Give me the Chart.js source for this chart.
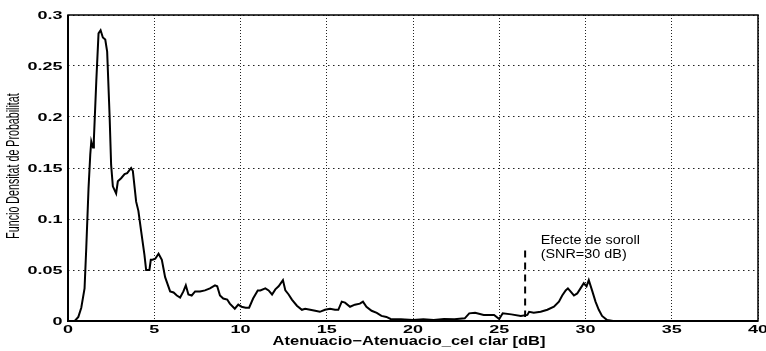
<!DOCTYPE html>
<html>
<head>
<meta charset="utf-8">
<script src="https://cdn.jsdelivr.net/npm/chart.js@4.4.1/dist/chart.umd.min.js"></script>
<style>
body { margin: 0; background: #fff; }
</style>
</head>
<body>
<canvas id="chart" width="766" height="351"></canvas>
<script>
// valors llegits de la figura
const atenuacio = [0, 0.39, 0.6, 0.77, 0.96, 1.06, 1.19, 1.29, 1.35, 1.45, 1.5, 1.64, 1.77, 1.89, 2.02, 2.16, 2.27, 2.41, 2.5, 2.6,
    2.79, 2.89, 3.08, 3.28, 3.43, 3.66, 3.76, 3.95, 4.08, 4.24, 4.43, 4.53, 4.72, 4.8, 4.9, 5.06, 5.25, 5.44, 5.63, 5.92,
    6.12, 6.31, 6.5, 6.69, 6.83, 6.98, 7.17, 7.37, 7.65, 7.94, 8.23, 8.52, 8.65, 8.81, 9.0, 9.23, 9.38, 9.67, 9.87, 10.06,
    10.3, 10.5, 10.73, 11.0, 11.15, 11.44, 11.63, 11.83, 12.02, 12.21, 12.46, 12.6, 12.79, 12.98, 13.27, 13.56, 13.75, 14.04, 14.33, 14.6,
    14.9, 15.19, 15.48, 15.67, 15.87, 16.06, 16.35, 16.63, 16.92, 17.1, 17.3, 17.6, 17.9, 18.17, 18.46, 18.7, 19.3, 20, 20.6, 21.2,
    21.8, 22.4, 23, 23.26, 23.6, 24.1, 24.7, 25.0, 25.2, 25.7, 26.25, 26.63, 26.73, 27.0, 27.4, 27.79, 28.17, 28.46, 28.65, 28.85,
    28.98, 29.13, 29.33, 29.52, 29.71, 29.9, 30.06, 30.19, 30.38, 30.58, 30.77, 30.96, 31.25, 31.6, 40]
const densitat = [0, 0, 0.004, 0.013, 0.032, 0.072, 0.13, 0.163, 0.176, 0.170, 0.178, 0.235, 0.282, 0.285, 0.278, 0.276, 0.264, 0.202, 0.153, 0.132,
    0.125, 0.137, 0.14, 0.144, 0.145, 0.15, 0.147, 0.117, 0.108, 0.088, 0.065, 0.050, 0.050, 0.060, 0.060, 0.061, 0.066, 0.06, 0.043, 0.029,
    0.028, 0.025, 0.023, 0.029, 0.035, 0.026, 0.025, 0.029, 0.029, 0.030, 0.032, 0.035, 0.034, 0.025, 0.022, 0.021, 0.017, 0.012, 0.016, 0.014,
    0.013, 0.013, 0.022, 0.030, 0.030, 0.032, 0.030, 0.026, 0.031, 0.034, 0.040, 0.030, 0.026, 0.021, 0.015, 0.011, 0.012, 0.011, 0.010, 0.009,
    0.011, 0.012, 0.011, 0.011, 0.019, 0.018, 0.014, 0.016, 0.017, 0.019, 0.014, 0.010, 0.008, 0.005, 0.004, 0.002, 0.0016, 0.001, 0.0016, 0.001,
    0.002, 0.0016, 0.0026, 0.0075, 0.008, 0.006, 0.006, 0.002, 0.0075, 0.0065, 0.005, 0.006, 0.009, 0.008, 0.009, 0.011, 0.014, 0.019, 0.025, 0.030,
    0.032, 0.029, 0.025, 0.027, 0.032, 0.037, 0.034, 0.040, 0.030, 0.019, 0.011, 0.005, 0.001, 0, 0]

const sorollX = [26.5, 26.5]
const sorollY = [0.069, 0.004]
const sorollText = ['Efecte de soroll', '(SNR=30 dB)']

const xTicks = [0, 5, 10, 15, 20, 25, 30, 35, 40]
const xTickLabels = ['0', '5', '10', '15', '20', '25', '30', '35', '40']
const yTicks = [0, 0.05, 0.1, 0.15, 0.2, 0.25, 0.3]
const yTickLabels = ['0', '0.05', '0.1', '0.15', '0.2', '0.25', '0.3']

const xTitle = 'Atenuacio\u2212Atenuacio_cel clar [dB]'
const yTitle = 'Funcio Densitat de Probabilitat'

function stretchedText(ctx, text, x, y, font, sx, align) {
    ctx.save()
    ctx.font = font
    ctx.fillStyle = '#000'
    ctx.textAlign = align
    ctx.textBaseline = 'middle'
    ctx.translate(x, y)
    ctx.scale(sx, 1)
    ctx.fillText(text, 0, 0)
    ctx.restore()
}

// textos i marc a l'estil de matlab (lletra eixamplada de l'escaneig)
const matlabText = {
    id: 'matlabText',
    afterDraw(chart) {
        let ctx = chart.ctx
        let area = chart.chartArea
        let xs = chart.scales.x
        let ys = chart.scales.y

        ctx.save()
        ctx.strokeStyle = '#000'
        ctx.lineWidth = 1.5
        ctx.strokeRect(area.left, area.top, area.right - area.left, area.bottom - area.top)
        ctx.lineWidth = 2
        ctx.beginPath()
        ctx.moveTo(area.left, area.top)
        ctx.lineTo(area.left, area.bottom)
        ctx.lineTo(area.right, area.bottom)
        ctx.stroke()
        ctx.restore()

        let tickFont = 'bold 10px "Liberation Sans", Arial, sans-serif'
        yTicks.forEach((v, i) => {
            stretchedText(ctx, yTickLabels[i], area.left - 5.5, ys.getPixelForValue(v) + 1, tickFont, 1.8, 'right')
        })
        xTicks.forEach((v, i) => {
            stretchedText(ctx, xTickLabels[i], xs.getPixelForValue(v), area.bottom + 9, tickFont, 1.8, 'center')
        })

        stretchedText(ctx, xTitle, (area.left + area.right) / 2 - 4, area.bottom + 21, 'bold 12.5px "Liberation Sans", Arial, sans-serif', 1.32, 'center')

        let annFont = '12px "Liberation Sans", Arial, sans-serif'
        stretchedText(ctx, sorollText[0], xs.getPixelForValue(27.4), ys.getPixelForValue(0.079), annFont, 1.2, 'left')
        stretchedText(ctx, sorollText[1], xs.getPixelForValue(27.4), ys.getPixelForValue(0.0647), annFont, 1.2, 'left')

        ctx.save()
        ctx.font = '11px "Liberation Sans", Arial, sans-serif'
        ctx.fillStyle = '#000'
        ctx.textAlign = 'center'
        ctx.textBaseline = 'middle'
        ctx.translate(14, (area.top + area.bottom) / 2 - 2)
        ctx.rotate(-Math.PI / 2)
        ctx.scale(0.97, 1.7)
        ctx.fillText(yTitle, 0, 0)
        ctx.restore()
    }
}

new Chart(document.getElementById('chart'), {
    type: 'line',
    data: {
        datasets: [
            {
                data: atenuacio.map((x, i) => ({ x: x, y: densitat[i] })),
                borderColor: '#000',
                borderWidth: 2,
                pointRadius: 0,
                tension: 0,
                fill: false
            },
            {
                data: sorollX.map((x, i) => ({ x: x, y: sorollY[i] })),
                borderColor: '#000',
                borderWidth: 2,
                borderDash: [7, 5],
                pointRadius: 0,
                fill: false
            }
        ]
    },
    options: {
        responsive: false,
        animation: false,
        layout: { padding: { left: 0, right: 8, top: 15, bottom: 0 } },
        plugins: { legend: { display: false }, tooltip: { enabled: false } },
        scales: {
            x: {
                type: 'linear',
                min: 0,
                max: 40,
                afterFit: s => { s.height = 30 },
                afterBuildTicks: s => { s.ticks = xTicks.map(v => ({ value: v })) },
                ticks: { display: false },
                grid: { color: '#222', lineWidth: 1, drawTicks: false },
                border: { display: false, dash: [1, 2] }
            },
            y: {
                min: 0,
                max: 0.3,
                afterFit: s => { s.width = 68 },
                afterBuildTicks: s => { s.ticks = yTicks.map(v => ({ value: v })) },
                ticks: { display: false },
                grid: { color: '#222', lineWidth: 1, drawTicks: false },
                border: { display: false, dash: [1.5, 3.5] }
            }
        }
    },
    plugins: [matlabText]
})
</script>
</body>
</html>
